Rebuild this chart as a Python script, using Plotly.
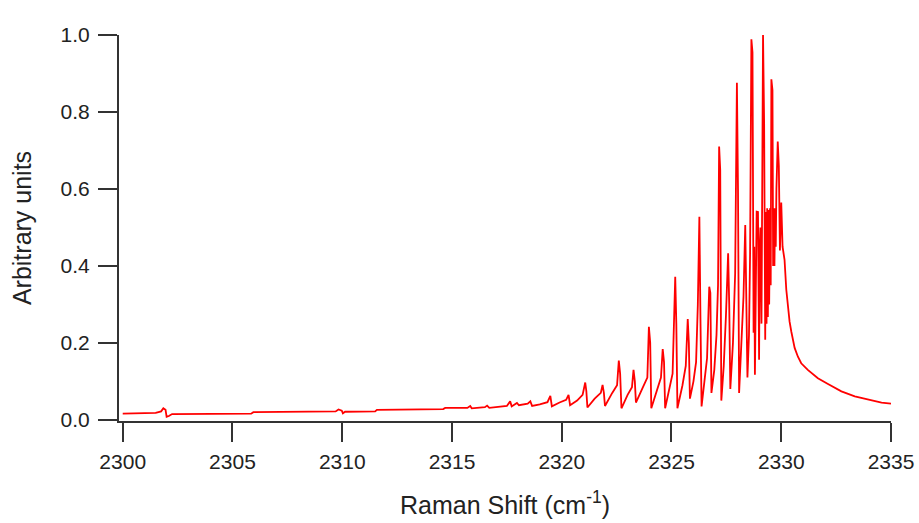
import plotly.graph_objects as go

# Raman shift (cm^-1) and intensity (arbitrary units)
shift = [
    2300.0, 2301.5, 2301.75, 2301.85, 2301.95, 2302.0, 2302.1, 2302.25,
    2305.85, 2305.95, 2309.7, 2309.83, 2309.98, 2310.03, 2310.13,
    2311.5, 2311.58, 2313.0, 2314.6, 2314.69, 2315.7, 2315.83, 2315.9,
    2316.5, 2316.6, 2316.7, 2317.5, 2317.65, 2317.72, 2317.8, 2317.96, 2318.05,
    2318.45, 2318.57, 2318.65, 2319.0, 2319.35, 2319.48, 2319.55,
    2319.9, 2320.2, 2320.31, 2320.38, 2320.7, 2320.95, 2321.07, 2321.12, 2321.17,
    2321.5, 2321.78, 2321.86, 2321.92, 2321.97,
    2322.3, 2322.52, 2322.6, 2322.66, 2322.72,
    2323.0, 2323.2, 2323.27, 2323.33, 2323.38,
    2323.7, 2323.9, 2323.97, 2324.03, 2324.08,
    2324.35, 2324.52, 2324.6, 2324.66, 2324.71,
    2324.9, 2325.05, 2325.17, 2325.22, 2325.27,
    2325.5, 2325.65, 2325.74, 2325.79, 2325.84,
    2326.0, 2326.12, 2326.2, 2326.27, 2326.32, 2326.37,
    2326.5, 2326.62, 2326.72, 2326.77, 2326.82,
    2326.95, 2327.05, 2327.12, 2327.17, 2327.22, 2327.27,
    2327.38, 2327.48, 2327.58, 2327.63, 2327.68,
    2327.8, 2327.9, 2327.98, 2328.03, 2328.08,
    2328.18, 2328.28, 2328.36, 2328.41, 2328.46,
    2328.53, 2328.58, 2328.64, 2328.69, 2328.74,
    2328.77, 2328.8, 2328.85, 2328.88, 2328.94, 2328.97, 2328.99,
    2329.02, 2329.05, 2329.1, 2329.13, 2329.17, 2329.22, 2329.25, 2329.27,
    2329.3, 2329.33, 2329.36, 2329.39, 2329.42, 2329.45, 2329.49, 2329.52,
    2329.55, 2329.6, 2329.63, 2329.66, 2329.69, 2329.72, 2329.75, 2329.78,
    2329.84, 2329.89, 2329.94, 2330.0, 2330.06,
    2330.15, 2330.23, 2330.31, 2330.38, 2330.46, 2330.53, 2330.61, 2330.76,
    2330.91, 2331.21, 2331.67, 2332.13, 2332.74, 2333.35, 2333.96, 2334.57, 2335.0,
]
intensity = [
    0.016, 0.018, 0.022, 0.030, 0.026, 0.008, 0.010, 0.015,
    0.016, 0.020, 0.022, 0.027, 0.024, 0.017, 0.021,
    0.022, 0.026, 0.027, 0.028, 0.031, 0.031, 0.036, 0.030,
    0.033, 0.037, 0.031, 0.036, 0.048, 0.035, 0.038, 0.044, 0.038,
    0.042, 0.048, 0.036, 0.040, 0.046, 0.062, 0.035,
    0.045, 0.052, 0.065, 0.038, 0.050, 0.065, 0.097, 0.075, 0.032,
    0.055, 0.070, 0.091, 0.070, 0.036,
    0.070, 0.090, 0.154, 0.120, 0.030,
    0.065, 0.085, 0.130, 0.100, 0.045,
    0.085, 0.110, 0.242, 0.200, 0.030,
    0.080, 0.110, 0.184, 0.150, 0.030,
    0.080, 0.120, 0.372, 0.250, 0.030,
    0.090, 0.140, 0.262, 0.200, 0.055,
    0.100, 0.150, 0.300, 0.528, 0.260, 0.035,
    0.100, 0.160, 0.346, 0.330, 0.070,
    0.130, 0.220, 0.350, 0.710, 0.650, 0.050,
    0.140, 0.270, 0.433, 0.300, 0.080,
    0.200, 0.380, 0.876, 0.600, 0.070,
    0.220, 0.320, 0.506, 0.300, 0.110,
    0.220, 0.430, 0.989, 0.955, 0.226,
    0.450, 0.117, 0.500, 0.541, 0.540, 0.300, 0.156,
    0.450, 0.500, 0.250, 0.600, 1.000, 0.770, 0.400, 0.208,
    0.540, 0.250, 0.550, 0.267, 0.545, 0.300, 0.550, 0.350,
    0.885, 0.857, 0.400, 0.550, 0.400, 0.550, 0.450, 0.600,
    0.723, 0.660, 0.440, 0.565, 0.450,
    0.416, 0.338, 0.286, 0.255, 0.229, 0.208, 0.187, 0.164,
    0.147, 0.130, 0.108, 0.093, 0.074, 0.061, 0.052, 0.045, 0.042,
]

x_ticks = [2300, 2305, 2310, 2315, 2320, 2325, 2330, 2335]
y_ticks = [0.0, 0.2, 0.4, 0.6, 0.8, 1.0]
y_tick_text = ["0.0", "0.2", "0.4", "0.6", "0.8", "1.0"]

fig = go.Figure()
fig.add_trace(go.Scatter(
    x=shift, y=intensity, mode="lines",
    line=dict(color="#ff0000", width=1.8),
    showlegend=False,
))

font = dict(family="Liberation Sans, Arial, sans-serif", size=21, color="#222222")

fig.update_layout(
    width=919, height=523,
    margin=dict(l=119, r=28, t=35, b=102, autoexpand=False),
    paper_bgcolor="white", plot_bgcolor="white",
    font=font,
    xaxis=dict(
        range=[2299.83, 2335.0],
        tickvals=x_ticks,
        ticks="outside", ticklen=19, tickwidth=2, tickcolor="#333333",
        showline=True, linewidth=2, linecolor="#333333",
        showgrid=False, zeroline=False, automargin=False,
        ticklabelstandoff=2,
        title=dict(text="Raman Shift (cm<sup>-1</sup>)", standoff=24),
    ),
    yaxis=dict(
        range=[-0.003, 1.0],
        tickvals=y_ticks, ticktext=y_tick_text,
        ticks="outside", ticklen=19, tickwidth=2, tickcolor="#333333",
        showline=True, linewidth=2, linecolor="#333333",
        showgrid=False, zeroline=False, automargin=False,
        ticklabelstandoff=4,
        title=dict(text="Arbitrary units", standoff=22),
    ),
)

fig.write_html("out.html")
